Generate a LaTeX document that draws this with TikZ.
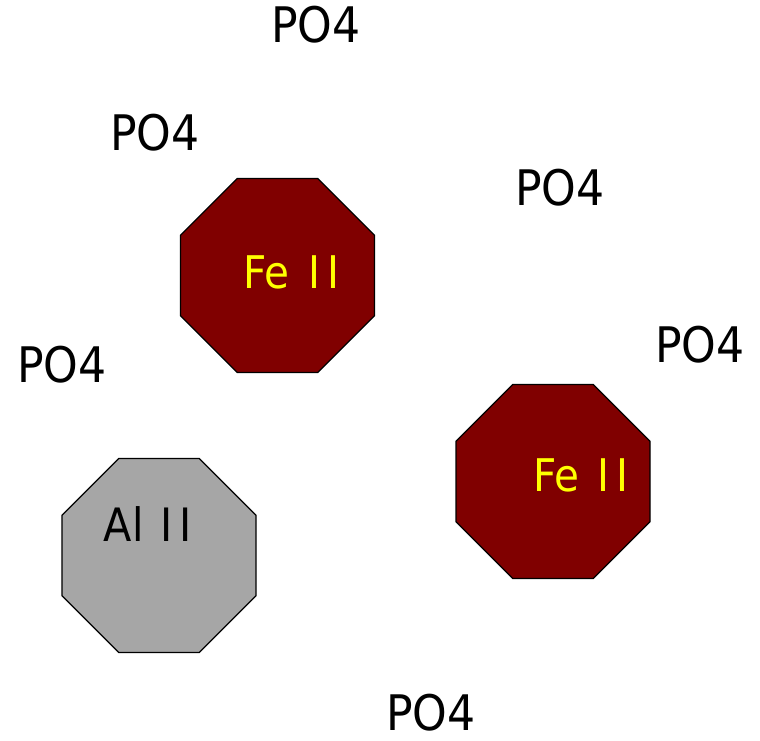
\documentclass[tikz,border=0pt]{standalone}
\usepackage{fontspec}
\setmainfont{DejaVu Sans}
\usetikzlibrary{shapes.geometric}
\definecolor{ironred}{HTML}{800000}
\definecolor{alugray}{HTML}{A6A6A6}
\definecolor{ironlabel}{HTML}{FFFF00}

\begin{document}
\begin{tikzpicture}[x=1pt,y=1pt]

      \useasboundingbox (0,0) rectangle (760,741);

      \begin{scope}[every node/.style={regular polygon, regular polygon sides=8,
          draw, line width=1.2pt, minimum size=210pt, inner sep=0pt}]
        \node[fill=ironred] (fe1) at (277.5,465.5) {};
        \node[fill=ironred] (fe2) at (553,259.5)   {};
        \node[fill=alugray] (al)  at (159,185.5)   {};
      \end{scope}

      \begin{scope}[every node/.style={inner sep=0pt, xscale=0.9, font=\fontsize{45}{50}\selectfont}]
        \node[text=ironlabel] (fe1lab) at (291.5,468.5) {Fe\hspace{6pt} I\kern8pt I};
        \node[text=ironlabel] (fe2lab) at (581,266)     {Fe\hspace{6pt} I\kern8pt I};
        \node[font=\fontsize{46}{50}\selectfont] (allab) at (148,217) {Al\hspace{4pt} I\kern8pt I};
      \end{scope}

      \begin{scope}[every node/.style={inner sep=0pt, xscale=0.9, font=\fontsize{49}{54}\selectfont}]
        \node (p1) at (316,716) {PO4};
        \node (p2) at (155,608) {PO4};
        \node (p3) at (560,553) {PO4};
        \node (p4) at (62,376)  {PO4};
        \node (p5) at (700,396) {PO4};
        \node (p6) at (431,28)  {PO4};
      \end{scope}

    \end{tikzpicture}
\end{document}
